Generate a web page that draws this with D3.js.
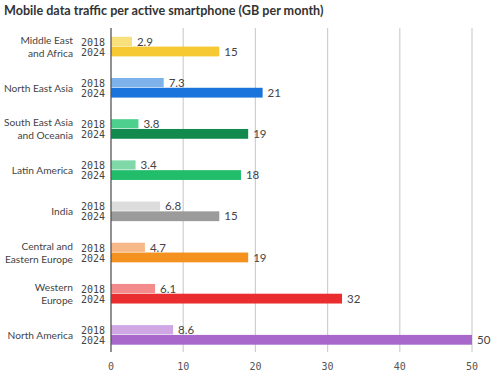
<!DOCTYPE html>
<html>
<head>
<meta charset="utf-8">
<script src="https://cdn.jsdelivr.net/npm/d3@7"></script>
<style>
  body { margin: 0; background: #fff; }
  svg { display: block; }
</style>
</head>
<body>
<svg id="chart" width="500" height="378"></svg>
<script>
const regions = [
  "Middle East\nand Africa",
  "North East Asia",
  "South East Asia\nand Oceania",
  "Latin America",
  "India",
  "Central and\nEastern Europe",
  "Western\nEurope",
  "North America",
];
const values2018 = [2.9, 7.3, 3.8, 3.4, 6.8, 4.7, 6.1, 8.6];
const values2024 = [15, 21, 19, 18, 15, 19, 32, 50];
const colors2018 = ["#f8e07c", "#7db2ea", "#4fcf8e", "#7ed8a8", "#dcdcdc", "#f8b98a", "#f38a8c", "#cfa7e5"];
const colors2024 = ["#f6c933", "#1a74dc", "#138a4d", "#22bd6b", "#9b9b9b", "#f5911f", "#ea2e2f", "#a767cb"];
const xTicks = [0, 10, 20, 30, 40, 50];

const svg = d3.select("#chart");
const plotTop = 28, plotBottom = 352;

const x = d3.scaleLinear().domain([0, 50]).range([111, 472]);
const y = d3.scaleBand().domain(d3.range(regions.length)).range([26, 355.5]);
const barH = 9.8;

// Title
svg.append("text")
  .attr("x", 4).attr("y", 15)
  .attr("font-family", "Lato, sans-serif")
  .attr("font-size", 12.6).attr("font-weight", 700)
  .attr("fill", "#333")
  .text("Mobile data traffic per active smartphone (GB per month)");

// Gridlines
svg.append("g")
  .selectAll("line")
  .data(xTicks.slice(1))
  .enter()
  .append("line")
  .attr("x1", (d) => x(d)).attr("x2", (d) => x(d))
  .attr("y1", plotTop).attr("y2", plotBottom)
  .attr("stroke", "#cfcfcf").attr("stroke-width", 1.2);

// Tick labels
svg.append("g")
  .selectAll("text")
  .data(xTicks)
  .enter()
  .append("text")
  .attr("x", (d) => x(d)).attr("y", 370)
  .attr("text-anchor", "middle")
  .attr("font-family", "DejaVu Sans Mono, monospace")
  .attr("font-size", 10).attr("fill", "#555")
  .text((d) => d);

const groups = svg.append("g")
  .selectAll("g")
  .data(regions)
  .enter()
  .append("g")
  .attr("transform", (_, i) => `translate(0, ${y(i) + (y.bandwidth() - barH * 2) / 2})`);

// Bars
groups.append("rect")
  .attr("x", x(0)).attr("y", 0)
  .attr("width", (_, i) => x(values2018[i]) - x(0))
  .attr("height", barH - 0.6)
  .attr("fill", (_, i) => colors2018[i]);

groups.append("rect")
  .attr("x", x(0)).attr("y", barH)
  .attr("width", (_, i) => x(values2024[i]) - x(0))
  .attr("height", barH)
  .attr("fill", (_, i) => colors2024[i]);

// Value labels
const valueStyle = (sel) => sel
  .attr("font-family", "Lato, sans-serif")
  .attr("font-size", 11.5).attr("fill", "#444");

groups.append("text")
  .attr("x", (_, i) => x(values2018[i]) + 5).attr("y", barH - 1)
  .text((_, i) => values2018[i])
  .call(valueStyle);

groups.append("text")
  .attr("x", (_, i) => x(values2024[i]) + 5).attr("y", barH * 2 - 0.8)
  .text((_, i) => values2024[i])
  .call(valueStyle);

// Year labels
const yearStyle = (sel) => sel
  .attr("x", 105).attr("text-anchor", "end")
  .attr("font-family", "DejaVu Sans Mono, monospace")
  .attr("font-size", 10).attr("fill", "#444");

groups.append("text").attr("y", barH - 1).text("2018").call(yearStyle);
groups.append("text").attr("y", barH * 2 - 0.8).text("2024").call(yearStyle);

// Region labels
groups.each(function (d) {
  const lines = d.split("\n");
  const t = d3.select(this).append("text")
    .attr("text-anchor", "end")
    .attr("font-family", "Lato, sans-serif")
    .attr("font-size", 10.2).attr("fill", "#444");
  const lh = 13;
  const start = barH - (lines.length - 1) * lh / 2 + 4;
  lines.forEach((line, k) => {
    t.append("tspan").attr("x", 73).attr("y", start + k * lh).text(line);
  });
});

// Axis line
svg.append("line")
  .attr("x1", x(0)).attr("x2", x(0))
  .attr("y1", plotTop).attr("y2", plotBottom)
  .attr("stroke", "#555").attr("stroke-width", 1.3);
</script>
</body>
</html>
